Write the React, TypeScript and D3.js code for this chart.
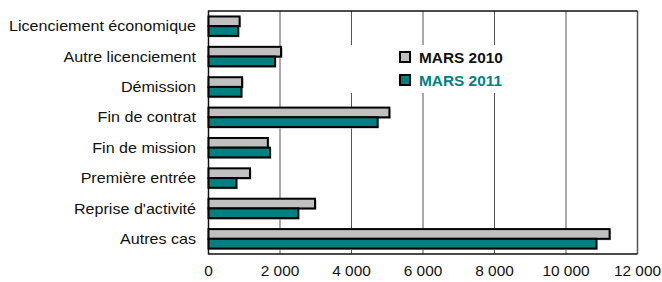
import React, { useEffect, useRef } from "react";
import * as d3 from "d3";

const categories = [
  "Licenciement économique",
  "Autre licenciement",
  "Démission",
  "Fin de contrat",
  "Fin de mission",
  "Première entrée",
  "Reprise d'activité",
  "Autres cas",
];
const mars2010 = [870, 2030, 940, 5060, 1660, 1160, 2980, 11220];
const mars2011 = [830, 1860, 920, 4730, 1720, 780, 2510, 10850];
const seriesNames = ["MARS 2010", "MARS 2011"];
const seriesColors = ["#c0c0c0", "#008080"];
const xTicks = [0, 2000, 4000, 6000, 8000, 10000, 12000];

const width = 662;
const height = 282;
const font = "'Liberation Sans', Arial, sans-serif";
const fmt = (v: number) => d3.format(",")(v).replace(/,/g, " ");

const App = () => {
  const ref = useRef(null);

  useEffect(() => {
    const svg = d3.select(ref.current);
    svg.selectAll("*").remove();

    const left = 208.5;
    const right = 637.5;
    const top = 11;
    const bottom = 254;

    const x = d3.scaleLinear().domain([0, 12000]).range([left, right]);
    const y = d3
      .scaleBand<string>()
      .domain(categories)
      .range([top, bottom])
      .paddingInner(0.36)
      .paddingOuter(0.18);
    const ySub = d3
      .scaleBand<string>()
      .domain(seriesNames)
      .range([0, y.bandwidth()]);

    // gridlines
    svg
      .append("g")
      .selectAll("line")
      .data(xTicks.slice(1, -1))
      .join("line")
      .attr("x1", (d) => x(d))
      .attr("x2", (d) => x(d))
      .attr("y1", top)
      .attr("y2", bottom)
      .attr("stroke", "#555")
      .attr("stroke-width", 1);

    // legend background hides gridlines
    svg
      .append("rect")
      .attr("x", 340)
      .attr("y", 45)
      .attr("width", 170)
      .attr("height", 48)
      .attr("fill", "white");

    // frame
    svg
      .append("line")
      .attr("x1", right)
      .attr("x2", right)
      .attr("y1", top)
      .attr("y2", bottom)
      .attr("stroke", "#555")
      .attr("stroke-width", 1.5);
    svg
      .append("path")
      .attr("d", `M${right},${top}H${left}V${bottom}H${right}`)
      .attr("fill", "none")
      .attr("stroke", "#111")
      .attr("stroke-width", 1.5);

    const series = [mars2010, mars2011];
    series.forEach((vals, si) => {
      const g = svg.append("g");
      // soft shadow
      g.selectAll("rect.shadow")
        .data(vals)
        .join("rect")
        .attr("class", "shadow")
        .attr("x", x(0) + 1.5)
        .attr("y", (_, i) => y(categories[i])! + ySub(seriesNames[si])! + 1.5)
        .attr("width", (d) => x(d) - x(0))
        .attr("height", ySub.bandwidth())
        .attr("fill", "#bbb");
      g.selectAll("rect.bar")
        .data(vals)
        .join("rect")
        .attr("class", "bar")
        .attr("x", x(0))
        .attr("y", (_, i) => y(categories[i])! + ySub(seriesNames[si])!)
        .attr("width", (d) => x(d) - x(0))
        .attr("height", ySub.bandwidth())
        .attr("fill", seriesColors[si])
        .attr("stroke", "#000")
        .attr("stroke-width", 2);
    });

    // category labels
    svg
      .append("g")
      .selectAll("text")
      .data(categories)
      .join("text")
      .attr("transform", (d) => `translate(196,${y(d)! + y.bandwidth() / 2}) scale(1.15,1)`)
      .attr("text-anchor", "end")
      .attr("dominant-baseline", "central")
      .attr("font-family", font)
      .attr("font-size", 14)
      .attr("fill", "#111")
      .text((d) => d);

    // x tick labels
    svg
      .append("g")
      .selectAll("text")
      .data(xTicks)
      .join("text")
      .attr("transform", (d) => `translate(${x(d)},276) scale(1.1,1)`)
      .attr("text-anchor", "middle")
      .attr("font-family", font)
      .attr("font-size", 14)
      .attr("fill", "#111")
      .text((d) => fmt(d));

    // legend
    const lg = svg.append("g");
    seriesNames.forEach((name, i) => {
      const yy = 52 + i * 23;
      lg.append("rect")
        .attr("x", 400)
        .attr("y", yy)
        .attr("width", 10)
        .attr("height", 10)
        .attr("fill", seriesColors[i])
        .attr("stroke", "#000")
        .attr("stroke-width", 2);
      lg.append("text")
        .attr("transform", `translate(419,${yy + 10.5}) scale(1.1,1)`)
        .attr("font-family", font)
        .attr("font-size", 14)
        .attr("font-weight", "bold")
        .attr("fill", i === 0 ? "#111" : "#008080")
        .text(name);
    });
  }, []);

  return (
    <svg
      ref={ref}
      width={width}
      height={height}
      style={{ position: "absolute", left: 0, top: 0, background: "white" }}
    />
  );
};

export default App;
